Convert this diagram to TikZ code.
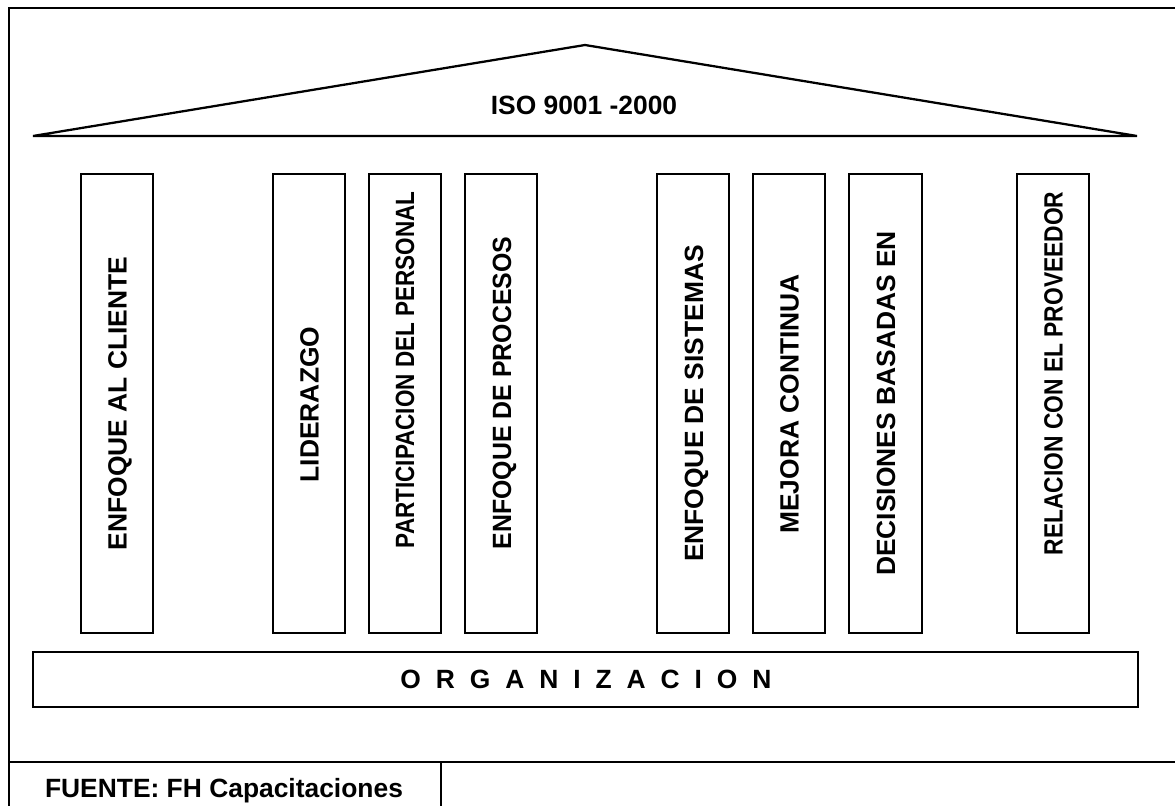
\documentclass[tikz,border=0pt]{standalone}
\usepackage{fontspec}
\setmainfont{Liberation Sans}

\tikzset{
  linea/.style={line width=1.5pt},
  techo/.style={line width=1.7pt, line join=miter},
  texto/.style={anchor=base, inner sep=0pt, font=\bfseries\fontsize{19.8}{23}\selectfont},
  pilartxt/.style={texto, rotate=90},
}

\begin{document}
\begin{tikzpicture}[x=0.75pt,y=-0.75pt]

%% marco de la figura (coordenadas en pixeles)
\useasboundingbox (0,0) rectangle (1175,806);

\def\ptop{174} % borde superior de los pilares
\def\pbot{633} % borde inferior de los pilares

\draw[linea] (1175,8) -- (9,8) -- (9,806);
\draw[linea] (9,762) -- (1175,762);
\draw[linea] (441,762) -- (441,806);

%% techo
\draw[techo] (33,136) -- (585,45) -- (1137,136) -- cycle;
\node[texto] (iso) at (584,115) {ISO 9001 -2000};

%% pilares
\draw[linea] (80.5,\ptop) rectangle (152.7,\pbot);
\draw[linea] (273.3,\ptop) rectangle (345,\pbot);
\draw[linea] (369,\ptop) rectangle (441,\pbot);
\draw[linea] (465,\ptop) rectangle (536.7,\pbot);
\draw[linea] (656.7,\ptop) rectangle (729,\pbot);
\draw[linea] (753.3,\ptop) rectangle (825,\pbot);
\draw[linea] (849.3,\ptop) rectangle (921.7,\pbot);
\draw[linea] (1016.7,\ptop) rectangle (1089.3,\pbot);

\node[pilartxt] (cliente) at (126.5,403.5) {ENFOQUE AL CLIENTE};
\node[pilartxt] (liderazgo) at (318.5,404.5) {LIDERAZGO};
\node[pilartxt, xscale=0.852] (personal) at (414,370) {PARTICIPACION DEL PERSONAL};
\node[pilartxt, xscale=0.942] (procesos) at (511,393) {ENFOQUE DE PROCESOS};
\node[pilartxt] (sistemas) at (703,403.5) {ENFOQUE DE SISTEMAS};
\node[pilartxt] (mejora) at (798.5,404) {MEJORA CONTINUA};
\node[pilartxt] (decisiones) at (895,403.5) {DECISIONES BASADAS EN};
\node[pilartxt, xscale=0.864] (proveedor) at (1062.5,373.5) {RELACION CON EL PROVEEDOR};

%% base
\draw[linea] (33,652.3) rectangle (1137.5,707.3);
\node[texto] (org) at (586,688) {\spaceskip=11.2pt O R G A N I Z A C I O N};

%% fuente
\node[texto] (fuente) at (224,797) {FUENTE: FH Capacitaciones};

\end{tikzpicture}
\end{document}
